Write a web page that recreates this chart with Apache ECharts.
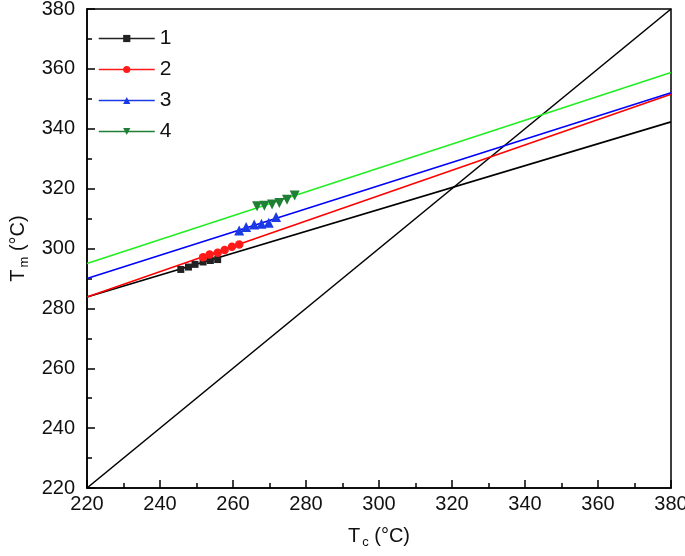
<!DOCTYPE html>
<html>
<head>
<meta charset="utf-8">
<script src="https://cdn.jsdelivr.net/npm/echarts@6/dist/echarts.min.js"></script>
<style>html,body{margin:0;padding:0;background:#fff}#c{width:685px;height:556px}</style>
</head>
<body>
<div id="c"></div>
<script>
// Axis range / ticks
const axisMin = 220, axisMax = 380, axisStep = 20;
// Diagonal Tm = Tc
const diagX = [220, 380];
const diagY = [220, 380];
// Fit lines (endpoints at axis limits)
const fitX = [220, 380];
const fit1Y = [283.8, 342.3];
const fit2Y = [283.8, 351.5];
const fit3Y = [290.0, 352.0];
const fit4Y = [295.0, 358.8];
// Measured points
const s1X = [245.7, 247.8, 249.6, 251.8, 253.8, 255.8];
const s1Y = [293.0, 293.8, 294.7, 295.5, 296.0, 296.3];
const s2X = [251.8, 253.6, 255.8, 257.7, 259.7, 261.7];
const s2Y = [297.1, 298.0, 298.6, 299.5, 300.6, 301.3];
const s3X = [261.7, 263.6, 265.8, 267.8, 269.8, 271.8];
const s3Y = [306.0, 307.2, 308.0, 308.3, 308.6, 310.5];
const s4X = [266.6, 268.6, 270.7, 272.7, 274.8, 276.9];
const s4Y = [314.1, 314.3, 314.7, 315.2, 316.3, 317.7];
const seriesNames = ['1', '2', '3', '4'];

const zip = (xs, ys) => xs.map((x, i) => [x, ys[i]]);
const FONT = "'Liberation Sans', Arial, sans-serif";

function pointSeries(name, xs, ys, color, symbol, size, rotate) {
  return {
    name: name, type: 'line', data: zip(xs, ys),
    symbol: symbol, symbolSize: size, symbolRotate: rotate || 0,
    showSymbol: true,
    itemStyle: { color: color },
    lineStyle: { color: color, opacity: 0, width: 1.5 },
    z: 5, silent: true, animation: false
  };
}
function fitSeries(name, xs, ys, color) {
  return {
    name: name, type: 'line', data: zip(xs, ys), symbol: 'none',
    lineStyle: { color: color, width: 1.6 }, z: 3, silent: true, animation: false
  };
}

const chart = echarts.init(document.getElementById('c'), null, { renderer: 'canvas' });
const axisCommon = {
  type: 'value', min: axisMin, max: axisMax, interval: axisStep,
  axisLine: { show: true, onZero: false, lineStyle: { color: '#000', width: 1.5 } },
  axisTick: { show: true, inside: true, length: 8, lineStyle: { color: '#000', width: 1.5 } },
  minorTick: { show: true, splitNumber: 2, length: 5, lineStyle: { color: '#000', width: 1.5 } },
  splitLine: { show: false },
  axisLabel: { color: '#111', fontSize: 20, fontFamily: FONT },
  nameLocation: 'middle',
  nameTextStyle: { color: '#111', fontFamily: FONT }
};
chart.setOption({
  animation: false,
  backgroundColor: '#fff',
  grid: { left: 87, right: 14, top: 9, bottom: 68, outerBoundsMode: 'none', containLabel: false,
          show: true, borderColor: '#000', borderWidth: 1.5, backgroundColor: 'transparent' },
  legend: {
    data: seriesNames, orient: 'vertical', left: 93, top: 23,
    itemWidth: 56, itemHeight: 9, itemGap: 10,
    textStyle: { fontSize: 21, fontFamily: FONT, color: '#111', lineHeight: 20 },
    lineStyle: { opacity: 1, width: 1.5 },
    selectedMode: false
  },
  xAxis: Object.assign({}, axisCommon, {
    axisLabel: Object.assign({}, axisCommon.axisLabel, { margin: 6 }),
    name: '{t|T}{s|c}{t| (°C)}', nameGap: 36,
    nameTextStyle: { color: '#111', fontFamily: FONT, rich: {
      t: { fontSize: 20, fontFamily: FONT, color: '#111' },
      s: { fontSize: 13, fontFamily: FONT, color: '#111', padding: [12, 0, 0, 2] }
    } }
  }),
  yAxis: Object.assign({}, axisCommon, {
    axisLabel: Object.assign({}, axisCommon.axisLabel, { margin: 12 }),
    name: '{t|T}{s|m}{t| (°C)}', nameGap: 56,
    nameTextStyle: { color: '#111', fontFamily: FONT, rich: {
      t: { fontSize: 20, fontFamily: FONT, color: '#111' },
      s: { fontSize: 13, fontFamily: FONT, color: '#111', padding: [12, 0, 0, 2] }
    } }
  }),
  series: [
    pointSeries('1', s1X, s1Y, '#222222', 'rect', 7),
    pointSeries('2', s2X, s2Y, '#ff1a1a', 'circle', 8.5),
    pointSeries('3', s3X, s3Y, '#1a3ae6', 'triangle', 10),
    pointSeries('4', s4X, s4Y, '#1f7f35', 'triangle', 10, 180),
    fitSeries('diag', diagX, diagY, '#000000'),
    fitSeries('fit1', fitX, fit1Y, '#000000'),
    fitSeries('fit2', fitX, fit2Y, '#ff0000'),
    fitSeries('fit3', fitX, fit3Y, '#0000ff'),
    fitSeries('fit4', fitX, fit4Y, '#22ee22')
  ]
});
</script>
</body>
</html>
